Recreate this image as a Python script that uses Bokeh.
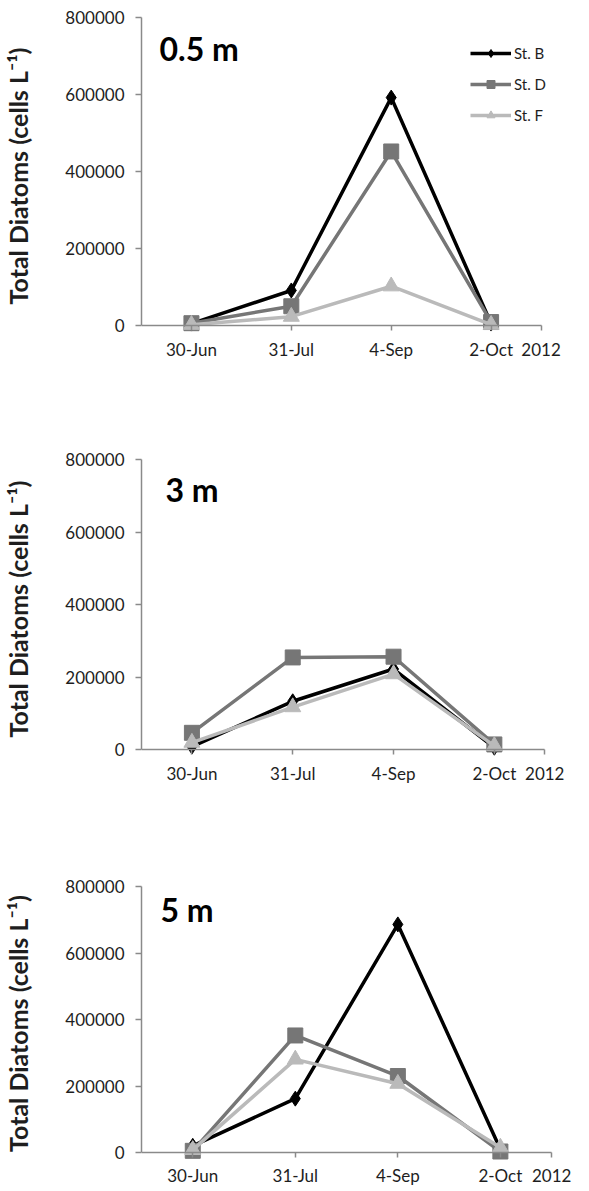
import math
from bokeh.plotting import figure
from bokeh.layouts import column
from bokeh.models import (Range1d, FixedTicker, Label, Legend, LegendItem,
                          NumeralTickFormatter, LinearAxis)
from bokeh.embed import file_html
from bokeh.resources import INLINE

# ---------------- data ----------------
dates = ["30-Jun", "31-Jul", "4-Sep", "2-Oct"]
year_label = "2012"
stations = ["St. B", "St. D", "St. F"]
depths = ["0.5 m", "3 m", "5 m"]
y_ticks = [0, 200000, 400000, 600000, 800000]
y_label = "Total Diatoms (cells L\u207b\u00b9)"

# 0.5 m
b_05 = [5000, 91000, 592000, 5000]
d_05 = [6000, 50000, 452000, 9000]
f_05 = [2000, 23000, 102000, 2000]
# 3 m
b_3 = [8000, 133000, 222000, 5000]
d_3 = [46000, 254000, 256000, 14000]
f_3 = [19000, 117000, 208000, 10000]
# 5 m
b_5 = [20000, 162000, 686000, 10000]
d_5 = [5000, 352000, 230000, 3000]
f_5 = [8000, 280000, 207000, 15000]

series_by_depth = [
    [b_05, d_05, f_05],
    [b_3, d_3, f_3],
    [b_5, d_5, f_5],
]

# ---------------- styles / geometry ----------------
FONT = "Lato"
colors = ["#000000", "#767676", "#bababa"]
markers = [("diamond", 15), ("square", 15), ("triangle", 16)]
AXIS_COLOR = "#8a8a8a"
TEXT_COLOR = "#1e1e1e"
Y_MAX = 800000
FIG_W = 573

# top: border above frame, ph: pixels for 0..Y_MAX, pad: pixels below 0,
# bottom: border below frame, left: border left, pw: pixels for the axis span
panels = [
    dict(top=17, ph=308, pad=9, bottom=40, left=134, pw=406, dx=18, dy=31),
    dict(top=85, ph=290, pad=9, bottom=40, left=137, pw=407, dx=24, dy=29.5),
    dict(top=88, ph=266, pad=8, bottom=29, left=138, pw=413, dx=19, dy=22.5),
]

xs = list(range(len(dates)))
x_start = -0.5
x_end = len(dates) - 0.5
x_ticks = xs + [x_end]


def style_ticks(ax):
    ax.axis_line_color = AXIS_COLOR
    ax.axis_line_width = 1.5
    ax.major_tick_line_color = AXIS_COLOR
    ax.major_tick_line_width = 1.5
    ax.major_tick_in = 0
    ax.minor_tick_line_color = None


def make_panel(depth, series, cfg, show_legend):
    fh = cfg["ph"] + cfg["pad"]
    ext_px = FIG_W - cfg["left"] - cfg["pw"]
    units_per_px_x = (x_end - x_start) / cfg["pw"]
    units_per_px_y = Y_MAX / cfg["ph"]
    p = figure(width=FIG_W, height=cfg["top"] + fh + cfg["bottom"],
               x_range=Range1d(x_start, x_end + ext_px * units_per_px_x),
               y_range=Range1d(-cfg["pad"] * units_per_px_y, Y_MAX),
               output_backend="svg", toolbar_location=None,
               min_border_left=cfg["left"], min_border_right=0,
               min_border_top=cfg["top"], min_border_bottom=cfg["bottom"])
    p.xgrid.visible = False
    p.ygrid.visible = False
    p.outline_line_color = None
    p.background_fill_color = "white"

    # x tick labels (below the frame)
    xa = p.xaxis[0]
    xa.ticker = FixedTicker(ticks=x_ticks)
    overrides = {x: d for x, d in zip(xs, dates)}
    overrides[x_end] = year_label
    xa.major_label_overrides = overrides
    xa.axis_line_color = None
    xa.major_tick_line_color = None
    xa.minor_tick_line_color = None
    xa.major_tick_in = 0
    xa.major_tick_out = 0
    xa.major_label_standoff = 4
    xa.major_label_text_font = FONT
    xa.major_label_text_font_size = "17px"
    xa.major_label_text_color = TEXT_COLOR

    # x axis line and ticks drawn at y = 0
    x0 = LinearAxis(fixed_location=0, ticker=FixedTicker(ticks=x_ticks),
                    bounds=(x_start, x_end),
                    major_label_text_alpha=0, major_label_text_font_size="1px")
    style_ticks(x0)
    x0.major_tick_out = 5
    p.add_layout(x0, "below")

    ya = p.yaxis[0]
    ya.bounds = (0, Y_MAX)
    ya.ticker = FixedTicker(ticks=y_ticks)
    ya.formatter = NumeralTickFormatter(format="0")
    style_ticks(ya)
    ya.major_tick_out = 6
    ya.major_label_standoff = 11
    ya.major_label_text_font = FONT
    ya.major_label_text_font_size = "17px"
    ya.major_label_text_color = TEXT_COLOR
    ya.axis_label = y_label
    ya.axis_label_text_font = FONT
    ya.axis_label_text_font_size = "25px"
    ya.axis_label_text_font_style = "bold"
    ya.axis_label_text_color = TEXT_COLOR
    ya.axis_label_standoff = 29

    items = []
    for name, vals, col, (mk, sz) in zip(stations, series, colors, markers):
        lr = p.line(xs, vals, line_width=3.5, line_color=col)
        sr = p.scatter(xs, vals, marker=mk, size=sz,
                       fill_color=col, line_color=col)
        items.append(LegendItem(label=name, renderers=[lr, sr]))

    if show_legend:
        leg = Legend(items=items, location=(329, fh - 108),
                     glyph_width=41, glyph_height=20, label_height=20,
                     spacing=11, padding=0, margin=0, label_standoff=3,
                     label_text_font=FONT, label_text_font_size="15px",
                     label_text_color=TEXT_COLOR,
                     background_fill_alpha=0, border_line_color=None)
        p.add_layout(leg)

    p.add_layout(Label(x=x_start, y=Y_MAX, x_offset=cfg["dx"], y_offset=-cfg["dy"],
                       text=depth, text_font=FONT, text_font_size="32px",
                       text_font_style="bold", text_color="#000000",
                       text_align="left", text_baseline="middle"))
    return p


figs = [make_panel(d, s, c, i == 0)
        for i, (d, s, c) in enumerate(zip(depths, series_by_depth, panels))]
layout = column(*figs, spacing=0)

open("out.html", "w").write(file_html(layout, INLINE))
